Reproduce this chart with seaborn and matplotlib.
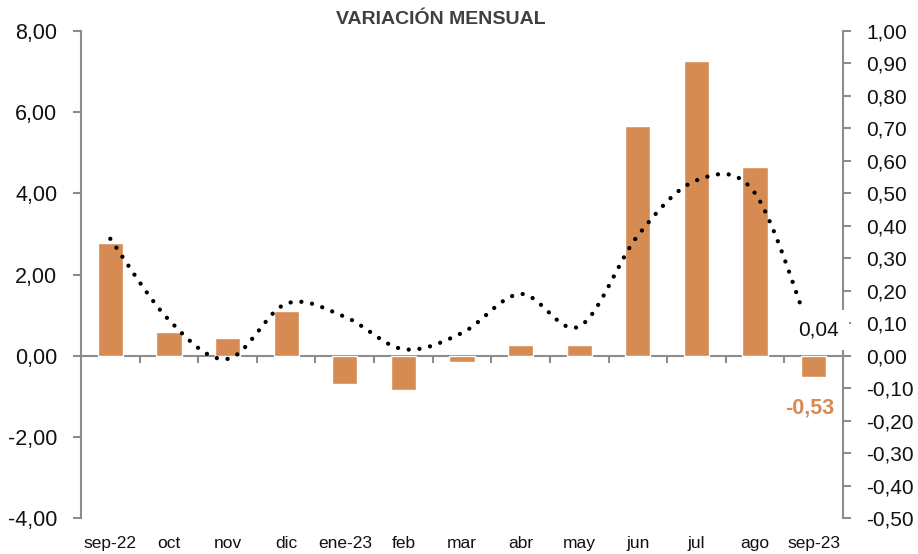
import matplotlib
matplotlib.use('Agg')
import matplotlib.pyplot as plt
from matplotlib.ticker import FuncFormatter
import pandas as pd
import seaborn as sns
import numpy as np

# Data
meses = ['sep-22', 'oct', 'nov', 'dic', 'ene-23', 'feb', 'mar',
         'abr', 'may', 'jun', 'jul', 'ago', 'sep-23']
variacion_barras = [2.77, 0.58, 0.44, 1.11, -0.69, -0.85, -0.16,
                    0.26, 0.26, 5.65, 7.27, 4.65, -0.53]
variacion_linea = [0.36, 0.11, -0.01, 0.16, 0.12, 0.02, 0.07,
                   0.19, 0.09, 0.37, 0.54, 0.50, 0.04]

BAR_COLOR = '#D68B52'
AXIS_GRAY = '#8C8C8C'


def smooth_curve(x, y, steps=30):
    """Catmull-Rom smoothing, similar to Excel's 'smoothed line' rendering."""
    x = np.asarray(x, dtype=float)
    y = np.asarray(y, dtype=float)
    px = np.concatenate([[x[0]], x, [x[-1]]])
    py = np.concatenate([[y[0]], y, [y[-1]]])
    out_x, out_y = [], []
    t = np.linspace(0, 1, steps, endpoint=False)
    for i in range(1, len(px) - 2):
        for p, out in ((px, out_x), (py, out_y)):
            p0, p1, p2, p3 = p[i - 1], p[i], p[i + 1], p[i + 2]
            out.extend(0.5 * ((2 * p1) + (-p0 + p2) * t
                              + (2 * p0 - 5 * p1 + 4 * p2 - p3) * t ** 2
                              + (-p0 + 3 * p1 - 3 * p2 + p3) * t ** 3))
    out_x.append(x[-1])
    out_y.append(y[-1])
    return np.array(out_x), np.array(out_y)


def coma(v, pos=None):
    v = round(v, 2) + 0.0
    if abs(v) < 1e-9:
        v = 0.0
    return f"{v:.2f}".replace('.', ',')


sns.set_style('white')
plt.rcParams['font.family'] = ['Liberation Sans', 'DejaVu Sans']

df = pd.DataFrame({'mes': meses, 'valor': variacion_barras})

fig = plt.figure(figsize=(9.18, 5.54), dpi=100)
ax = fig.add_axes([81 / 918, 1 - 518 / 554, (843 - 81) / 918, (518 - 31) / 554])

sns.barplot(data=df, x='mes', y='valor', color=BAR_COLOR, saturation=1,
            width=0.43, ax=ax)
ax.set_xlim(-0.5, len(meses) - 0.5)
ax.set_ylim(-4, 8)
ax.set_yticks(np.arange(-4, 8.1, 2))
ax.yaxis.set_major_formatter(FuncFormatter(coma))
ax.set_xlabel('')
ax.set_ylabel('')

for side in ['top', 'bottom', 'right']:
    ax.spines[side].set_visible(False)
ax.spines['left'].set_color(AXIS_GRAY)
ax.spines['left'].set_linewidth(1.5)
ax.tick_params(axis='y', direction='out', length=6, width=1.5, color=AXIS_GRAY,
               labelsize=15.5, pad=11, labelcolor='#111111', left=True)
ax.tick_params(axis='x', length=0, labelsize=12.5, pad=13, labelcolor='#111111')

# axis line at zero with ticks between categories
secax = ax.secondary_xaxis(1 / 3)
secax.set_xticks(np.arange(0.5, len(meses) - 1, 1))
secax.tick_params(axis='x', direction='out', length=5, width=1.5,
                  color=AXIS_GRAY, labelbottom=False)
secax.spines['bottom'].set_color(AXIS_GRAY)
secax.spines['bottom'].set_linewidth(1.5)

# right axis: smoothed dotted line
ax2 = ax.twinx()
ax2.set_ylim(-0.5, 1.0)
ax2.set_yticks(np.arange(-0.5, 1.01, 0.1))
ax2.yaxis.set_major_formatter(FuncFormatter(coma))
for side in ['top', 'bottom', 'left']:
    ax2.spines[side].set_visible(False)
ax2.spines['right'].set_color(AXIS_GRAY)
ax2.spines['right'].set_linewidth(1.5)
ax2.tick_params(axis='y', direction='out', length=6, width=1.5, color=AXIS_GRAY,
                labelsize=15, pad=11, labelcolor='#111111', right=True)

sx, sy = smooth_curve(np.arange(len(meses)), variacion_linea)
ax2.plot(sx, sy, color='black', linewidth=3.1, linestyle=(0, (0.01, 2.5)),
         dash_capstyle='round', solid_capstyle='round')

# last value labels
ax2.annotate(coma(variacion_linea[-1]), xy=(len(meses) - 1, variacion_linea[-1]),
             xytext=(3.6, 9), textcoords='offset points', ha='center', va='center',
             fontsize=15, color='#111111', zorder=10, annotation_clip=False,
             bbox=dict(boxstyle='square,pad=0.5', fc='white', ec='none'))
ax.annotate(coma(variacion_barras[-1]), xy=(len(meses) - 1, variacion_barras[-1]),
            xytext=(-3, -22), textcoords='offset points', ha='center', va='center',
            fontsize=15.5, fontweight='bold', color=BAR_COLOR)

fig.text((335 + 547) / 2 / 918, 1 - 20 / 554, 'VARIACIÓN MENSUAL', ha='center',
         va='center', fontsize=14, fontweight='bold', color='#404040')

fig.savefig('out.png', dpi=100)
plt.close(fig)
